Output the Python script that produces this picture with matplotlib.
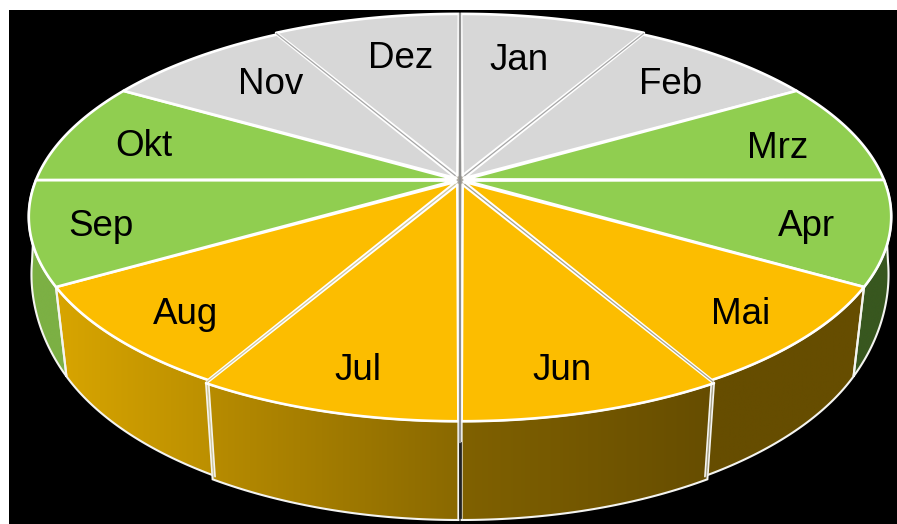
import matplotlib
matplotlib.use('Agg')
import matplotlib.pyplot as plt
import numpy as np
from matplotlib.colors import LinearSegmentedColormap
from matplotlib.patches import Polygon, Rectangle

plt.rcParams['font.family'] = ['Liberation Sans', 'DejaVu Sans']

# Daten
months = ['Jan', 'Feb', 'Mrz', 'Apr', 'Mai', 'Jun', 'Jul', 'Aug', 'Sep', 'Okt', 'Nov', 'Dez']
values = [1, 1, 1, 1, 1, 1, 1, 1, 1, 1, 1, 1]
groups = ['grau', 'grau', 'gruen', 'gruen', 'gelb', 'gelb', 'gelb', 'gelb', 'gruen', 'gruen', 'grau', 'grau']

# Aussehen
top_colors = {'grau': '#d7d7d7', 'gruen': '#90ce50', 'gelb': '#fcbd00'}
explode = [0.012, 0, 0, 0, 0, 0.012, 0.012, 0, 0, 0, 0, 0.012]
wall_colors = {'Apr': ('#38571f', '#38571f'), 'Mai': ('#664d00', '#664d00'), 'Jun': ('#806100', '#664d00'),
               'Jul': ('#b88c00', '#8a6900'), 'Aug': ('#d8a500', '#bb8f00'), 'Sep': ('#7cb044', '#7cb044')}
label_xy = [(519, 60), (671, 84), (778, 148), (806, 226), (741, 314), (562, 370),
            (358, 370), (186, 315), (101, 226), (144, 146), (271, 85), (401, 59)]
# Grenze -> (Segment mit Abstand, Farbe der Fuge)
gap_lines = {1: (0, '#a6a6a6'), 5: (5, '#a8a48e'), 7: (6, '#cfc79f'), 11: (11, '#a6a6a6')}

CX, CY = 460, 180
K = 0.1823


def top_uv(u, v):
    # Perspektive der Oberseite
    d = 1 - K * v
    return CX + 424 * u / d, CY + 194.5 * v / d


def bottom_uv(u, v):
    # Unterkante der Seitenwand
    d = 1 - K * v
    a = 413 + 15 * (np.clip(0.5 - v, 0, 0.5) / 0.5) ** 2
    return CX + a * u / d, 262 + 208 * v / d


fig = plt.figure(figsize=(8.97, 5.24), dpi=100, facecolor='white')
ax = fig.add_axes([0, 0, 1, 1])
ax.set_axis_off()

ax.add_patch(Rectangle((9, 10), 888, 514, facecolor='black', edgecolor='none', zorder=0))

edges = np.radians(np.concatenate([[0], np.cumsum(values)]) * 360 / np.sum(values))
mids = (edges[:-1] + edges[1:]) / 2

# Graue Flaeche unter den Fugen
tt = np.linspace(0, 2 * np.pi, 361)
xx, yy = top_uv(0.985 * np.sin(tt), -0.985 * np.cos(tt))
ax.add_patch(Polygon(np.column_stack([xx, yy]), facecolor='#a8a49a', edgecolor='none', zorder=3))

# Seitenwaende
for i, name in enumerate(months):
    if name not in wall_colors:
        continue
    t = np.linspace(edges[i], edges[i + 1], 60)
    du, dv = explode[i] * np.sin(mids[i]), -explode[i] * np.cos(mids[i])
    u, v = np.sin(t) + du, -np.cos(t) + dv
    x1, y1 = top_uv(u, v)
    x2, y2 = bottom_uv(u, v)
    pts = np.column_stack([np.r_[x1, x2[::-1]], np.r_[y1, y2[::-1]]])
    c_left, c_right = wall_colors[name]
    cmap = LinearSegmentedColormap.from_list(name, [c_left, c_right])
    poly = Polygon(pts, facecolor='none', edgecolor='none')
    ax.add_patch(poly)
    im = ax.imshow(np.linspace(0, 1, 256)[None, :], cmap=cmap, aspect='auto', zorder=1.5,
                   extent=[pts[:, 0].min(), pts[:, 0].max(), pts[:, 1].max(), pts[:, 1].min()])
    im.set_clip_path(poly)
    ax.add_patch(Polygon(pts, facecolor='none', edgecolor='#f4f4f0', linewidth=1.5, zorder=2))

# Fuge zwischen Jun und Jul in der Wand
ax.plot([460, 460], [443, 517], color='#222222', linewidth=2, zorder=2.5)

# Oberseite
for i, name in enumerate(months):
    t = np.linspace(edges[i], edges[i + 1], 60)
    du, dv = explode[i] * np.sin(mids[i]), -explode[i] * np.cos(mids[i])
    x, y = top_uv(np.sin(t) + du, -np.cos(t) + dv)
    # Spitze etwas zurueckgesetzt
    x0, y0 = top_uv(du + 0.012 * np.sin(mids[i]), dv - 0.012 * np.cos(mids[i]))
    pts = np.column_stack([np.r_[x0, x], np.r_[y0, y]])
    ax.add_patch(Polygon(pts, facecolor=top_colors[groups[i]], edgecolor='white', linewidth=1.9,
                         joinstyle='round', zorder=4))
    ax.text(label_xy[i][0], label_xy[i][1], name, fontsize=26.5, color='black',
            ha='center', va='center', zorder=6)

# Doppelte Fugen an den abgesetzten Segmenten
for b, (seg, col) in gap_lines.items():
    du, dv = explode[seg] * np.sin(mids[seg]) / 2, -explode[seg] * np.cos(mids[seg]) / 2
    eu, ev = np.sin(edges[b]) + du, -np.cos(edges[b]) + dv
    sx, sy = top_uv(np.array([du + 0.02 * np.sin(edges[b]), eu]), np.array([dv - 0.02 * np.cos(edges[b]), ev]))
    ax.plot(sx, sy, color=col, linewidth=0.9, zorder=5)
    if months[b] in wall_colors or months[b - 1] in wall_colors:
        bx, by = bottom_uv(eu, ev)
        ax.plot([sx[1], bx], [sy[1], by], color=col, linewidth=0.9, zorder=2.2)

# Mittelfuge
ax.plot([460, 460], [14, 442], color='#8f8f8f', linewidth=1.6, zorder=5)

ax.set_xlim(0, 897)
ax.set_ylim(524, 0)
fig.savefig('out.png', dpi=100, facecolor='white')
